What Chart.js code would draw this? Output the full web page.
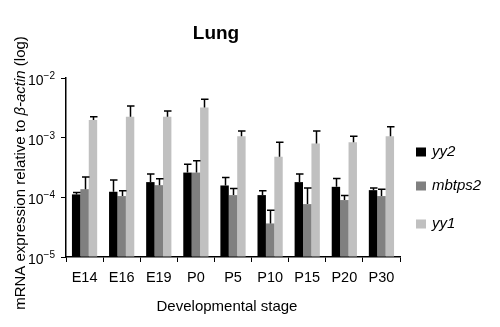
<!DOCTYPE html>
<html>
<head>
<meta charset="utf-8">
<script src="https://cdn.jsdelivr.net/npm/chart.js@4"></script>
<style>
  html, body { margin: 0; padding: 0; background: #fff; }
  #wrap { width: 500px; height: 327px; position: relative; }
</style>
</head>
<body>
<div id="wrap"><canvas id="chart"></canvas></div>
<script>
// Values (log scale, upper error bar ends)
const stages = ['E14', 'E16', 'E19', 'P0', 'P5', 'P10', 'P15', 'P20', 'P30'];
const yy2 = [1.12e-4, 1.24e-4, 1.8e-4, 2.6e-4, 1.58e-4, 1.09e-4, 1.8e-4, 1.5e-4, 1.32e-4];
const yy2Err = [1.2e-4, 1.95e-4, 2.45e-4, 3.6e-4, 2.16e-4, 1.29e-4, 2.45e-4, 2.07e-4, 1.43e-4];
const mbtps2 = [1.37e-4, 1.05e-4, 1.6e-4, 2.6e-4, 1.09e-4, 3.65e-5, 7.7e-5, 9.0e-5, 1.05e-4];
const mbtps2Err = [2.2e-4, 1.29e-4, 2.04e-4, 4.1e-4, 1.41e-4, 6.1e-5, 1.44e-4, 1.07e-4, 1.37e-4];
const yy1 = [1.97e-3, 2.25e-3, 2.25e-3, 3.2e-3, 1.06e-3, 4.8e-4, 8.0e-4, 8.4e-4, 1.06e-3];
const yy1Err = [2.25e-3, 3.4e-3, 2.8e-3, 4.4e-3, 1.29e-3, 8.4e-4, 1.29e-3, 1.06e-3, 1.52e-3];
const yTicks = [1e-5, 1e-4, 1e-3, 1e-2];

const FONT = '"Liberation Sans", Arial, sans-serif';

// upper error bars drawn from the bar tops
const errorBars = {
    id: 'errorBars',
    afterDatasetsDraw(chart) {
        const ctx = chart.ctx;
        const yScale = chart.scales.y;
        ctx.save();
        ctx.strokeStyle = '#000';
        ctx.lineWidth = 1.5;
        chart.data.datasets.forEach((ds, di) => {
            const meta = chart.getDatasetMeta(di);
            meta.data.forEach((bar, i) => {
                const top = yScale.getPixelForValue(ds.errTop[i]);
                const x = Math.round(bar.x) + 0.5;
                ctx.beginPath();
                ctx.moveTo(x, bar.y);
                ctx.lineTo(x, top);
                ctx.moveTo(x - 3.5, top);
                ctx.lineTo(x + 4, top);
                ctx.stroke();
            });
        });
        ctx.restore();
    }
};

// title, axis titles, superscript y labels, legend
const decorations = {
    id: 'decorations',
    afterDraw(chart) {
        const ctx = chart.ctx;
        const yScale = chart.scales.y;
        const area = chart.chartArea;
        ctx.save();
        ctx.fillStyle = '#000';

        ctx.font = 'bold 19px ' + FONT;
        ctx.textAlign = 'center';
        ctx.textBaseline = 'middle';
        ctx.fillText('Lung', 216, 34);

        // y tick labels as 10^n
        yTicks.forEach(v => {
            const y = yScale.getPixelForValue(v);
            const exp = String(Math.round(Math.log10(v))).replace('-', '\u2212');
            ctx.font = '10px ' + FONT;
            const ew = ctx.measureText(exp).width;
            ctx.textAlign = 'right';
            ctx.textBaseline = 'alphabetic';
            ctx.fillText(exp, area.left - 11, y + 1);
            ctx.font = '14px ' + FONT;
            ctx.fillText('10', area.left - 11 - ew, y + 7);
        });

        // x axis title
        ctx.font = '15px ' + FONT;
        ctx.textAlign = 'center';
        ctx.textBaseline = 'middle';
        ctx.fillText('Developmental stage', 227, 307);

        // y axis title with italic part
        const parts = [
            ['mRNA expression relative to ', '15px '],
            ['\u03b2-actin', 'italic 15px '],
            [' (log)', '15px ']
        ];
        let total = 0;
        parts.forEach(p => { ctx.font = p[1] + FONT; total += ctx.measureText(p[0]).width; });
        ctx.translate(21, 173);
        ctx.rotate(-Math.PI / 2);
        ctx.textAlign = 'left';
        let x = -total / 2;
        parts.forEach(p => {
            ctx.font = p[1] + FONT;
            ctx.fillText(p[0], x, 0);
            x += ctx.measureText(p[0]).width;
        });
        ctx.setTransform(1, 0, 0, 1, 0, 0);

        // legend
        const legendY = [152, 186, 224];
        chart.data.datasets.forEach((ds, i) => {
            ctx.fillStyle = ds.backgroundColor;
            ctx.fillRect(416, legendY[i] - 4.5, 10, 9);
            ctx.fillStyle = '#000';
            ctx.font = 'italic 15px ' + FONT;
            ctx.textAlign = 'left';
            ctx.textBaseline = 'middle';
            ctx.fillText(ds.label, 432, legendY[i]);
        });
        ctx.restore();
    }
};

new Chart(document.getElementById('chart'), {
    type: 'bar',
    data: {
        labels: stages,
        datasets: [
            { label: 'yy2', data: yy2, errTop: yy2Err, backgroundColor: '#000000' },
            { label: 'mbtps2', data: mbtps2, errTop: mbtps2Err, backgroundColor: '#808080' },
            { label: 'yy1', data: yy1, errTop: yy1Err, backgroundColor: '#c0c0c0' }
        ]
    },
    options: {
        responsive: true,
        maintainAspectRatio: false,
        animation: false,
        events: [],
        datasets: {
            bar: { categoryPercentage: 0.68, barPercentage: 1.0, base: 1e-5 }
        },
        layout: { padding: { left: 0, right: 100, top: 78, bottom: 0 } },
        plugins: {
            legend: { display: false },
            title: { display: false },
            tooltip: { enabled: false }
        },
        scales: {
            x: {
                afterFit(scale) { scale.height = 70; },
                grid: { offset: true, drawOnChartArea: false, drawTicks: true, tickLength: 5, color: '#000', lineWidth: 1 },
                border: { display: true, color: '#000', width: 1.5 },
                ticks: { color: '#000', font: { family: FONT, size: 14.5 }, padding: 7, maxRotation: 0 }
            },
            y: {
                type: 'logarithmic',
                min: 1e-5,
                max: 1e-2,
                afterFit(scale) { scale.width = 66; },
                afterBuildTicks(scale) { scale.ticks = yTicks.map(v => ({ value: v })); },
                grid: { drawOnChartArea: false, drawTicks: true, tickLength: 5, color: '#000', lineWidth: 1 },
                border: { display: true, color: '#000', width: 1.5 },
                ticks: { callback: () => '' }
            }
        }
    },
    plugins: [errorBars, decorations]
});
</script>
</body>
</html>
